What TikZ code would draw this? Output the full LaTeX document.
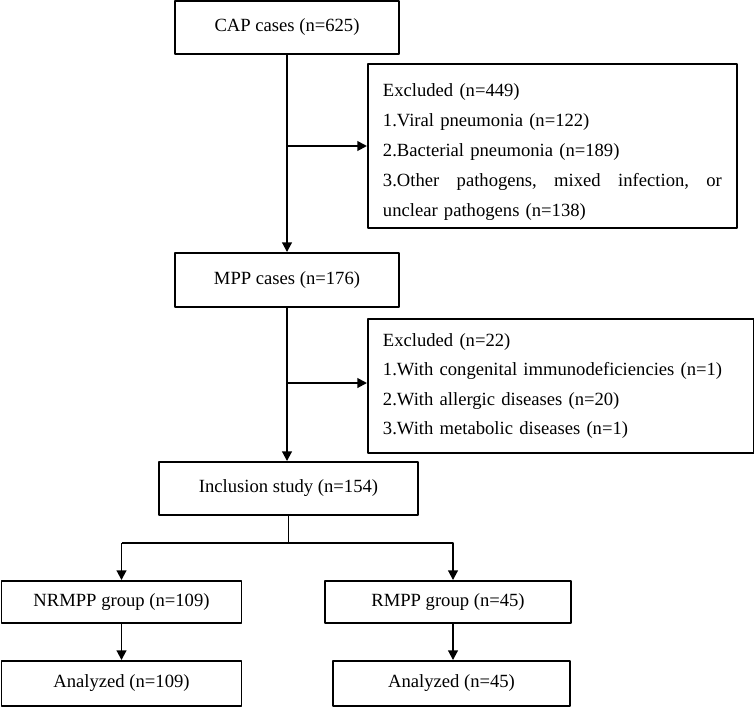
\documentclass[tikz,border=0pt]{standalone}
\usepackage{fontspec}
\setmainfont{Liberation Serif}
\usepackage{tikz}
\usetikzlibrary{arrows.meta,calc}

\begin{document}
\begin{tikzpicture}[x=0.02cm,y=-0.02cm,>={Triangle[length=5.5pt,width=5.5pt]},line join=round,
  box/.style={draw,line width=1.1pt,inner sep=0pt,align=center,font=\fontsize{10.6}{17}\selectfont},
  exclbox/.style={draw,line width=1.1pt,inner xsep=0.3cm,inner ysep=0pt,align=left,anchor=north west}]
  \useasboundingbox (0,0) rectangle (754,707);
  % main boxes
  \node[box,minimum width=4.48cm,minimum height=1.06cm] (cap) at (287,27.5) {CAP cases (n=625)};
  \node[box,minimum width=4.48cm,minimum height=1.08cm] (mpp) at (287,280) {MPP cases (n=176)};
  \node[box,minimum width=5.18cm,minimum height=1.06cm] (incl) at (288.5,488.5) {Inclusion study (n=154)};
  \node[box,minimum width=4.80cm,minimum height=0.84cm] (nrmpp) at (121.5,602) {NRMPP group (n=109)};
  \node[box,minimum width=4.92cm,minimum height=0.84cm] (rmpp) at (448,602) {RMPP group (n=45)};
  \node[box,minimum width=4.80cm,minimum height=0.90cm] (ana1) at (121.5,683.5) {Analyzed (n=109)};
  \node[box,minimum width=4.74cm,minimum height=0.90cm] (ana2) at (451.5,683.5) {Analyzed (n=45)};
  % exclusion boxes
  \node[exclbox,text width=6.78cm,minimum height=3.28cm,font=\fontsize{10.6}{17.1}\selectfont] (excl1) at (367,63) {\rule{0pt}{0.5cm}Excluded (n=449)\\
    1.Viral pneumonia (n=122)\\
    2.Bacterial pneumonia (n=189)\\
    \leavevmode\hbox to 6.78cm{3.Other\hfill pathogens,\hfill mixed\hfill infection,\hfill or}\\
    unclear pathogens (n=138)};
  \node[exclbox,text width=7.12cm,minimum height=2.68cm,font=\fontsize{10.6}{16.7}\selectfont] (excl2) at (367,318) {Excluded (n=22)\\
    1.With congenital immunodeficiencies (n=1)\\
    2.With allergic diseases (n=20)\\
    3.With metabolic diseases (n=1)};
  % connectors
  \coordinate (E1) at (288,146);
  \coordinate (E2) at (288,383);
  \coordinate (BL) at (120,543);
  \coordinate (BR) at (453,543);
  \draw[line width=1.1pt,->] (cap.south) -- (mpp.north);
  \draw[line width=1.1pt,->] (E1) -- (E1 -| excl1.west);
  \draw[line width=1.1pt,->] (mpp.south) -- (mpp.south |- incl.north);
  \draw[line width=1.1pt,->] (E2) -- (E2 -| excl2.west);
  \draw[line width=1.1pt] (incl.south) -- (incl.south |- BL);
  \draw[line width=1.1pt,->] (BL -| nrmpp.north) -- (BR) -- (BR |- rmpp.north);
  \draw[line width=1.1pt,->] (BL -| nrmpp.north) -- (nrmpp.north);
  \draw[line width=1.1pt,->] (nrmpp.south) -- (ana1.north);
  \draw[line width=1.1pt,->] (BR |- rmpp.south) -- (BR |- ana2.north);
\end{tikzpicture}
\end{document}
